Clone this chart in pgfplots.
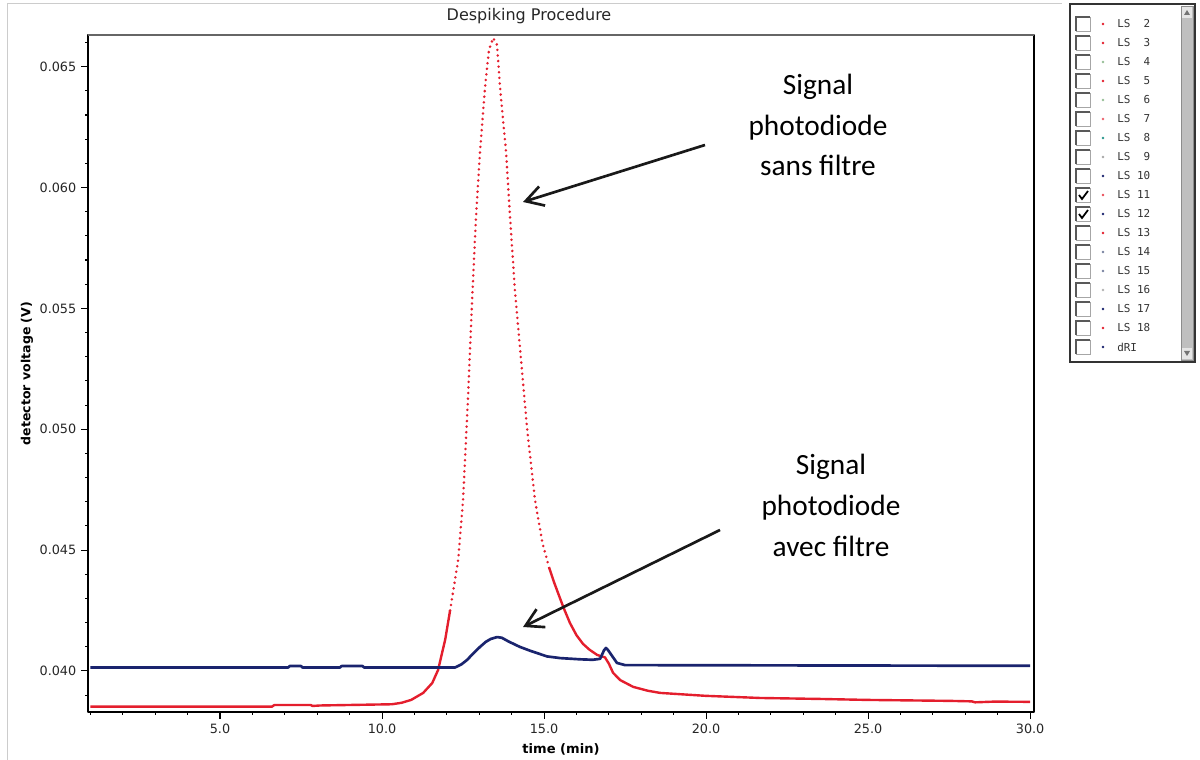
\documentclass[border=0pt]{standalone}
\usepackage{fontspec}
\setmainfont{DejaVu Sans}
\setmonofont{DejaVu Sans Mono}
\newfontfamily\annot{Carlito}
\usepackage{pgfplots}
\pgfplotsset{compat=1.18}
\usetikzlibrary{arrows.meta}

\definecolor{lsred}{RGB}{228,30,45}
\definecolor{lsnavy}{RGB}{26,36,110}
\definecolor{lsgreen}{RGB}{150,190,150}
\definecolor{lsteal}{RGB}{40,150,140}
\definecolor{lsgrey}{RGB}{120,130,160}

\begin{document}
\begin{tikzpicture}
\useasboundingbox (0,0) rectangle (900pt,570pt);
\begin{axis}[
    at={(66pt,36pt)}, anchor=south west,
    scale only axis, width=709.5pt, height=507.75pt,
    xmin=0.926, xmax=30.12,
    ymin=0.03830, ymax=0.06631,
    xtick={5,10,15,20,25,30},
    minor xtick={1,2,...,30},
    ytick={0.040,0.045,0.050,0.055,0.060,0.065},
    minor ytick={0.039,0.041,0.042,0.043,0.044,0.046,0.047,0.048,0.049,0.051,0.052,0.053,0.054,0.056,0.057,0.058,0.059,0.061,0.062,0.063,0.064,0.066},
    scaled x ticks=false, scaled y ticks=false,
    xticklabel style={/pgf/number format/.cd, fixed, fixed zerofill, precision=1},
    yticklabel style={/pgf/number format/.cd, fixed, fixed zerofill, precision=3},
    /pgf/number format/assume math mode=true,
    tick label style={font=\fontsize{9.6}{11}\selectfont, text=black!85},
    tick align=outside, xtick pos=bottom, ytick pos=left,
    major tick length=5.25pt, minor tick length=2.25pt,
    tick style={black, line width=0.8pt},
    axis line style={black, line width=1.1pt},
    xlabel={time (min)},
    ylabel={detector voltage (V)},
    xlabel style={font=\fontsize{9.8}{11}\selectfont\bfseries, at={(0.5,-0.0547)}, anchor=center},
    ylabel style={font=\fontsize{9.4}{11}\selectfont\bfseries, at={(-0.0645,0.5)}, anchor=center},
    line join=round,
]
% LS 11, baseline and rise
\addplot[lsred, line width=1.8pt] table {
1.00 0.03852
6.60 0.03852
6.68 0.03859
7.80 0.03859
7.85 0.03855
8.10 0.03857
10.30 0.03862
10.60 0.03868
10.90 0.03880
11.27 0.03909
11.55 0.03950
11.73 0.04004
11.95 0.04130
12.10 0.04250
};
% LS 11, peak (sparse points)
\addplot[lsred, line width=2.1pt, line cap=round, dash pattern=on 0pt off 4.2pt] table {
12.10 0.04250
12.35 0.04459
12.50 0.04707
12.65 0.05121
12.78 0.05535
12.90 0.05878
13.02 0.06143
13.18 0.06416
13.30 0.06569
13.43 0.06619
13.55 0.06590
13.64 0.06416
13.83 0.06143
13.95 0.05878
14.10 0.05576
14.29 0.05287
14.48 0.04997
14.72 0.04707
14.95 0.04530
15.15 0.04430
};
% LS 11, tail
\addplot[lsred, line width=1.8pt] table {
15.15 0.04430
15.30 0.04370
15.43 0.04323
15.60 0.04262
15.80 0.04198
16.00 0.04148
16.20 0.04112
16.40 0.04088
16.64 0.04066
16.88 0.04056
17.00 0.04030
17.13 0.03992
17.35 0.03962
17.75 0.03934
18.20 0.03918
18.58 0.03909
19.97 0.03897
21.67 0.03888
23.52 0.03884
24.97 0.03880
27.53 0.03876
28.20 0.03874
28.30 0.03870
28.90 0.03873
30.00 0.03872
};
% LS 12
\addplot[lsnavy, line width=2pt] table {
1.00 0.04014
7.10 0.04014
7.15 0.04020
7.50 0.04020
7.55 0.04014
8.70 0.04014
8.75 0.04020
9.40 0.04020
9.45 0.04014
12.25 0.04014
12.45 0.04027
12.62 0.04045
12.80 0.04070
13.02 0.04099
13.20 0.04120
13.35 0.04132
13.55 0.04140
13.70 0.04137
13.90 0.04122
14.26 0.04099
14.60 0.04082
15.09 0.04060
15.50 0.04053
16.11 0.04048
16.50 0.04046
16.73 0.04050
16.85 0.04085
16.91 0.04095
16.98 0.04085
17.25 0.04033
17.50 0.04024
30.00 0.04021
};
\end{axis}

\begin{scope}[x=0.75pt, y=-0.75pt, yshift=570pt]
  % panel frame and top border
  \draw[black!20, line width=0.6pt] (7,760) -- (7,3) -- (1062,3);
  \draw[black!60, line width=1.5pt] (88,35) -- (1034,35);
  % title
  \node[font=\fontsize{12}{14}\selectfont, text=black!85] at (529,16) {Despiking Procedure};
  % annotations
  \begin{scope}[font=\annot\fontsize{22}{26}\selectfont, anchor=base]
    \node[anchor=base] at (818,95) {Signal};
    \node[anchor=base] at (818,136) {photodiode};
    \node[anchor=base] at (818,176) {sans filtre};
    \node[anchor=base] at (831,475) {Signal};
    \node[anchor=base] at (831,516) {photodiode};
    \node[anchor=base] at (831,557) {avec filtre};
  \end{scope}
  \draw[line width=2pt, black!90, -{Straight Barb[length=13pt, width=15pt]}] (705,145) -- (523,202);
  \draw[line width=2pt, black!90, -{Straight Barb[length=13pt, width=15pt]}] (720,530) -- (523,627);
  % series selector
  \draw[black!80, line width=0.8pt, fill=white] (1070,4) rectangle (1195,362);
  \fill[black!25] (1181,6) rectangle (1193,360);
  \draw[black!45] (1181,6) rectangle (1193,360);
  \fill[black!10] (1182,7) rectangle (1192,18);
  \fill[black!55] (1184,15) -- (1187,10) -- (1190,15) -- cycle;
  \fill[black!10] (1182,348) rectangle (1192,359);
  \fill[black!55] (1184,351) -- (1187,356) -- (1190,351) -- cycle;
  \foreach \i/\lab/\col/\chk in {0/LS~~2/lsred/0, 1/LS~~3/lsred/0, 2/LS~~4/lsgreen/0,
      3/LS~~5/lsred/0, 4/LS~~6/lsgreen/0, 5/LS~~7/lsred!70/0, 6/LS~~8/lsteal/0,
      7/LS~~9/black!35/0, 8/LS~10/lsnavy/0, 9/LS~11/lsred!80/1, 10/LS~12/lsnavy/1,
      11/LS~13/lsred/0, 12/LS~14/lsgrey/0, 13/LS~15/lsgrey/0, 14/LS~16/black!30/0,
      15/LS~17/lsnavy/0, 16/LS~18/lsred/0, 17/dRI/lsnavy/0} {
    \pgfmathsetmacro{\yy}{24+19*\i}
    \draw[black!35, line width=0.6pt] (1076,\yy-7) rectangle (1090,\yy+7);
    \draw[black!65, line width=0.8pt] (1076,\yy+7) -- (1076,\yy-7) -- (1090,\yy-7);
    \ifnum\chk=1
      \draw[black, line width=1.3pt] (1079,\yy) -- (1082,\yy+4) -- (1088,\yy-4);
    \fi
    \fill[\col] (1103,\yy) circle (1.3);
    \node[anchor=west, inner sep=0pt, font=\ttfamily\fontsize{8.2}{10}\selectfont, text=black!80] at (1117,\yy) {\lab};
  }
\end{scope}
\end{tikzpicture}
\end{document}
